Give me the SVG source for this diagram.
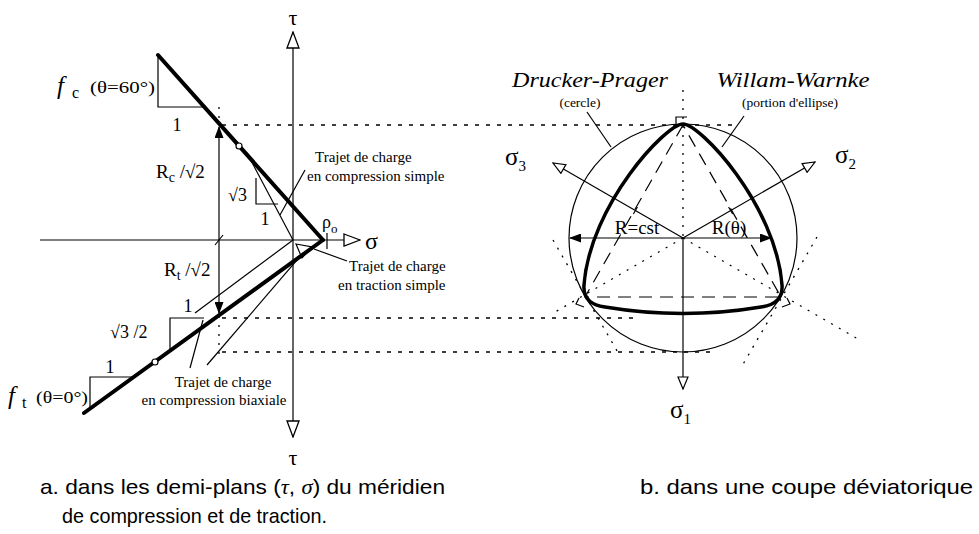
<svg xmlns="http://www.w3.org/2000/svg" width="979" height="534" viewBox="0 0 979 534">
<style>
.thin{fill:none;stroke:#000;stroke-width:1.2}
.thick{fill:none;stroke:#000;stroke-width:4;stroke-linecap:round}
.dot{fill:none;stroke:#000;stroke-width:1.3;stroke-dasharray:4 7}
.fdot{fill:none;stroke:#000;stroke-width:1.3;stroke-dasharray:2 7}
.dash{fill:none;stroke:#000;stroke-width:1.2;stroke-dasharray:13 8}
text{fill:#000}
.serif{font-family:'Liberation Serif','Times New Roman','DejaVu Serif',serif}
.cap{font-family:'Liberation Sans','DejaVu Sans',sans-serif;font-size:21px}
.it{font-family:'Liberation Serif','DejaVu Serif',serif;font-style:italic}
</style>
<defs>
<marker id="open" viewBox="0 0 18 14" refX="17" refY="7" markerWidth="18" markerHeight="14" markerUnits="userSpaceOnUse" orient="auto">
<path d="M1,1 L17,7 L1,13 Z" fill="#fff" stroke="#000" stroke-width="1.3"/>
</marker>
<marker id="opensm" viewBox="0 0 14 12" refX="13" refY="6" markerWidth="14" markerHeight="12" markerUnits="userSpaceOnUse" orient="auto">
<path d="M1,1 L13,6 L1,11 Z" fill="#fff" stroke="#000" stroke-width="1.2"/>
</marker>
<marker id="fill" viewBox="0 0 12 9" refX="11" refY="4.5" markerWidth="12" markerHeight="9" markerUnits="userSpaceOnUse" orient="auto">
<path d="M0,0 L12,4.5 L0,9 Z" fill="#000"/>
</marker>
</defs>

<g id="left-diagram" font-family="Liberation Serif, DejaVu Serif, serif">
<g id="axes">
<line class="thin" x1="293" y1="240" x2="293" y2="32" marker-end="url(#open)"/>
<line class="thin" x1="293" y1="240" x2="293" y2="437" marker-end="url(#open)"/>
<line class="thin" x1="40" y1="240" x2="360" y2="240" marker-end="url(#open)"/>
<text class="serif" x="293" y="25" font-size="22" text-anchor="middle">τ</text>
<text class="serif" x="293" y="465" font-size="22" text-anchor="middle">τ</text>
<text class="serif" x="365" y="249" font-size="24">σ</text>
<text class="serif" x="322" y="228" font-size="18">ρ<tspan font-size="13" dy="5">o</tspan></text>
<line class="thin" x1="327" y1="233" x2="327" y2="249"/>
<line class="thin" x1="215" y1="245" x2="223" y2="235"/>
</g>

<g id="meridians">
<line class="thick" x1="158" y1="55" x2="323" y2="240"/>
<line class="thick" x1="323" y1="240" x2="84" y2="413"/>
<circle cx="239" cy="146" r="3" fill="#fff" stroke="#000" stroke-width="1.2"/>
<circle cx="155" cy="362" r="3" fill="#fff" stroke="#000" stroke-width="1.2"/>
<polyline class="thin" points="158,55 158,107 204,107"/>
<polyline class="thin" points="90,409 90,377 133,377"/>
<polyline class="thin" points="170,350 170,318 204,318"/>
<polyline class="thin" points="256,178 256,204 278,204"/>
</g>

<g id="meridian-labels">
<text class="it" x="57" y="94" font-size="25">f</text>
<text class="serif" x="72" y="98" font-size="16">c</text>
<text class="serif" x="90" y="93" font-size="17" textLength="65" lengthAdjust="spacingAndGlyphs">(θ=60°)</text>
<text class="serif" x="177" y="131" font-size="18" text-anchor="middle">1</text>
<text class="it" x="8" y="404" font-size="25">f</text>
<text class="serif" x="22" y="408" font-size="16">t</text>
<text class="serif" x="36" y="403" font-size="16" textLength="52" lengthAdjust="spacingAndGlyphs">(θ=0°)</text>
<text class="serif" x="110" y="373" font-size="18" text-anchor="middle">1</text>
<text class="serif" x="188" y="312" font-size="18" text-anchor="middle">1</text>
<text class="serif" x="110" y="338" font-size="18">√3 /2</text>
<text class="serif" x="228" y="201" font-size="18">√3</text>
<text class="serif" x="265" y="225" font-size="18" text-anchor="middle">1</text>
</g>

<g id="radius-arrows">
<line class="thin" x1="219" y1="240" x2="219" y2="127" marker-end="url(#fill)"/>
<line class="thin" x1="219" y1="240" x2="219" y2="313" marker-end="url(#fill)"/>
<line class="fdot" x1="219" y1="107" x2="219" y2="125"/>
<line class="fdot" x1="219" y1="316" x2="219" y2="356"/>
<text class="serif" x="156" y="178" font-size="19">R<tspan font-size="14" dy="4">c</tspan><tspan dy="-4"> /√2</tspan></text>
<text class="serif" x="164" y="276" font-size="19">R<tspan font-size="14" dy="4">t</tspan><tspan dy="-4"> /√2</tspan></text>
</g>

<g id="load-paths">
<line class="thin" x1="247" y1="153" x2="293" y2="240"/>
<line class="thin" x1="305" y1="170" x2="280" y2="215"/>
<line class="thin" x1="293" y1="240" x2="195" y2="313"/>
<line class="thin" x1="303" y1="253" x2="207" y2="365"/>
<line class="thin" x1="203" y1="320" x2="190" y2="368"/>
<path class="thin" d="M296,244 L312,247 L302,258 Z"/>
<line class="thin" x1="347" y1="261" x2="314" y2="249"/>
<text class="serif" x="315" y="162" font-size="15">Trajet de charge</text>
<text class="serif" x="307" y="181" font-size="15">en compression simple</text>
<text class="serif" x="349" y="271" font-size="15">Trajet de charge</text>
<text class="serif" x="338" y="290" font-size="15">en traction simple</text>
<text class="serif" x="223" y="387" font-size="15" text-anchor="middle">Trajet de charge</text>
<text class="serif" x="214" y="405" font-size="15" text-anchor="middle">en compression biaxiale</text>
</g>

<g id="projection-lines">
<line class="dot" x1="222" y1="125" x2="735" y2="125"/>
<line class="dot" x1="222" y1="318" x2="640" y2="318"/>
<line class="dot" x1="222" y1="352" x2="715" y2="352"/>
</g>
</g>

<g id="right-diagram" font-family="Liberation Serif, DejaVu Serif, serif">
<g id="guides">
<line class="fdot" x1="683" y1="90" x2="683" y2="238"/>
<line class="fdot" x1="683" y1="238" x2="555" y2="312"/>
<line class="fdot" x1="683" y1="238" x2="858" y2="339"/>
<line class="fdot" x1="553" y1="240" x2="620" y2="356"/>
<line class="fdot" x1="817" y1="237" x2="742" y2="366"/>
<path class="dash" d="M683,125 L585,297 L781,297 Z"/>
</g>
<g id="drucker-prager">
<circle class="thin" cx="683" cy="238" r="114"/>
</g>
<g id="willam-warnke">
<path fill="none" stroke="#000" stroke-width="3.5" d="M683,124 C666,124 590,205 584,285 C583,298 590,305 605,307 Q683,320 761,307 C776,305 783,298 782,285 C776,205 700,124 683,124 Z"/>
<path class="thin" d="M676,124 L676,117 L687,117"/>
<path class="thin" d="M579,298 L576,304 L584,307"/>
<path class="thin" d="M787,298 L790,304 L782,307"/>
</g>
<g id="stress-axes">
<line class="thin" x1="683" y1="238" x2="683" y2="389" marker-end="url(#opensm)"/>
<line class="thin" x1="683" y1="238" x2="553" y2="163" marker-end="url(#opensm)"/>
<line class="thin" x1="683" y1="238" x2="815" y2="162" marker-end="url(#opensm)"/>
<line class="thin" x1="637.4" y1="207" x2="633.4" y2="214"/>
<line class="thin" x1="732.6" y1="214" x2="728.6" y2="207"/>
<text class="serif" x="505" y="165" font-size="25">σ<tspan font-size="15" dy="6">3</tspan></text>
<text class="serif" x="835" y="163" font-size="25">σ<tspan font-size="15" dy="6">2</tspan></text>
<text class="serif" x="670" y="418" font-size="25">σ<tspan font-size="15" dy="6">1</tspan></text>
</g>
<g id="radii">
<line class="thin" x1="683" y1="238" x2="570" y2="238" marker-end="url(#fill)"/>
<line class="thin" x1="683" y1="238" x2="771" y2="238" marker-end="url(#fill)"/>
<text class="serif" x="637" y="234" font-size="19" text-anchor="middle">R=cst</text>
<text class="serif" x="729" y="234" font-size="19" text-anchor="middle">R(θ)</text>
</g>
<g id="labels">
<text class="it" x="590" y="87" font-size="21" text-anchor="middle" textLength="156" lengthAdjust="spacingAndGlyphs">Drucker-Prager</text>
<text class="serif" x="580" y="107" font-size="13.5" text-anchor="middle">(cercle)</text>
<line class="thin" x1="587" y1="112" x2="611" y2="147"/>
<text class="it" x="793" y="87" font-size="21" text-anchor="middle" textLength="153" lengthAdjust="spacingAndGlyphs">Willam-Warnke</text>
<text class="serif" x="790" y="107" font-size="13.5" text-anchor="middle">(portion d'ellipse)</text>
<line class="thin" x1="744" y1="116" x2="722" y2="147"/>
</g>
</g>

<g id="captions">
<text class="cap" x="40" y="494" textLength="405" lengthAdjust="spacingAndGlyphs">a. dans les demi-plans (<tspan class="it">τ</tspan>, <tspan class="it">σ</tspan>) du méridien</text>
<text class="cap" x="62" y="523" textLength="265" lengthAdjust="spacingAndGlyphs">de compression et de traction.</text>
<text class="cap" x="640" y="494" textLength="333" lengthAdjust="spacingAndGlyphs">b.  dans une coupe déviatorique</text>
</g>
</svg>
